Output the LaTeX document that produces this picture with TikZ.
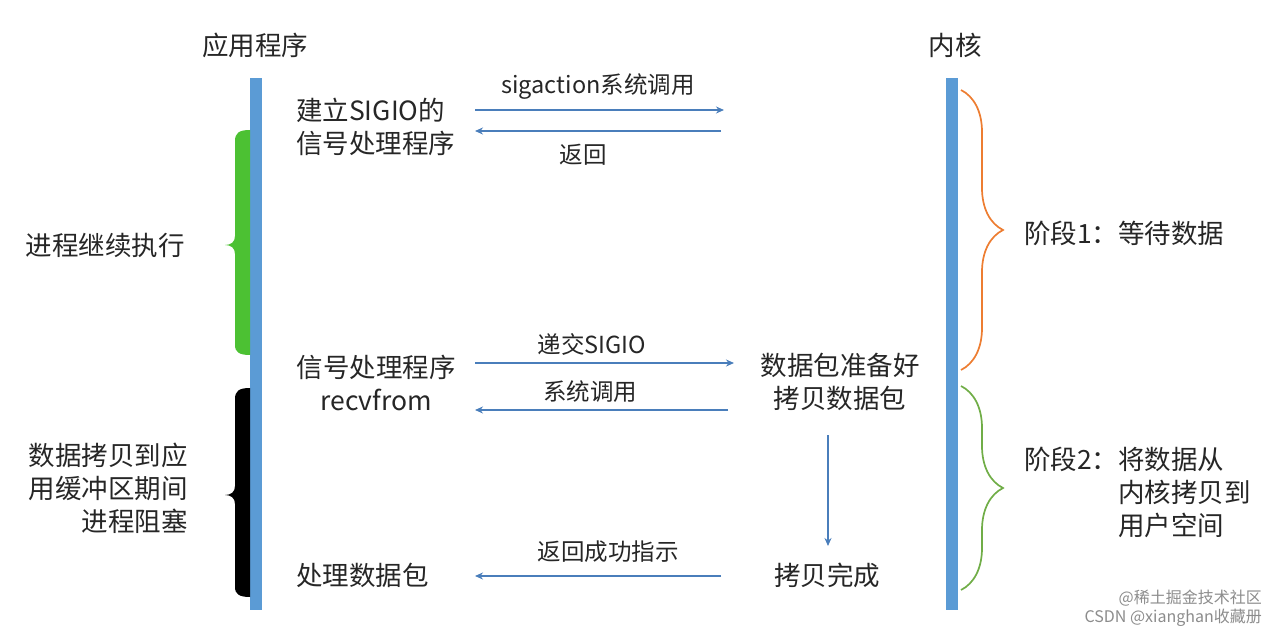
\documentclass[tikz,border=0pt]{standalone}
\usepackage{fontspec}
\setmainfont{Noto Sans CJK SC}
\usepackage{tikz}
\usetikzlibrary{arrows.meta,decorations.pathreplacing}
\definecolor{barblue}{HTML}{5B9BD5}
\definecolor{arrblue}{HTML}{4A7EBB}
\definecolor{txtgray}{HTML}{262626}
\definecolor{rungreen}{HTML}{4CC133}
\definecolor{phaseone}{HTML}{ED7D31}
\definecolor{phasetwo}{HTML}{70AD47}
\tikzset{
  txt/.style={text=txtgray,font=\fontsize{26.5}{33}\selectfont,inner sep=0pt},
  lbl/.style={text=txtgray,font=\fontsize{23.5}{28}\selectfont,inner sep=0pt},
  wm/.style={text=black!45,font=\fontsize{16}{18}\selectfont,inner sep=0pt},
  arr/.style={-{Stealth[length=8pt,width=7pt]},draw=arrblue,line width=1.3pt},
  bar/.style={fill=barblue,draw=none},
  brc/.style={decorate,decoration={brace,amplitude=42pt,aspect=#1},line width=1.7pt},
  brc/.default={0.5},
}

\begin{document}
\begin{tikzpicture}[x=1pt,y=-1pt]
 \useasboundingbox (0,0) rectangle (1280,636);
 % titles
 \node[txt] (app) at (255,45){应用程序};
 \node[txt] (kern) at (955,45){内核};
 % time lines
 \path[bar] (250,78) rectangle (262,610);
 \path[bar] (946,78) rectangle (958,610);
 % left braces (filled)
 \fill[rungreen] (250,130) .. controls (239,130) and (235,133) .. (235,141) -- (235,236)
   .. controls (235,242) and (231,245) .. (225,245) .. controls (231,245) and (235,248) .. (235,254)
   -- (235,345) .. controls (235,352) and (239,355) .. (250,355) -- cycle;
 \fill[black] (250,388) .. controls (239,388) and (235,391) .. (235,399) -- (235,486)
   .. controls (235,492) and (231,495) .. (225,495) .. controls (231,495) and (235,498) .. (235,504)
   -- (235,587) .. controls (235,594) and (239,597) .. (250,597) -- cycle;
 \node[txt] (run) at (105,245){进程继续执行};
 \node[txt,align=right,anchor=east] (block) at (188,488){数据拷贝到应\\用缓冲区期间\\进程阻塞};
 % right braces
 \coordinate (p1a) at (961,90);
 \coordinate (p1b) at (961,370);
 \coordinate (p2a) at (961,386);
 \coordinate (p2b) at (961,590);
 \draw[brc,draw=phaseone] (p1a) -- (p1b);
 \draw[brc=0.5,draw=phasetwo] (p2a) -- (p2b);
 \node[txt,anchor=west] (ph1) at (1024,233){阶段1：等待数据};
 \node[txt,anchor=west,align=left] (ph2) at (1024,492){阶段2：将数据从\\\hphantom{阶段2：}内核拷贝到\\\hphantom{阶段2：}用户空间};
 % step texts
 \node[txt,anchor=west,align=left] (setup) at (296,127){建立SIGIO的\\信号处理程序};
 \node[txt,align=center] (handler) at (376,383){信号处理程序\\recvfrom};
 \node[txt,align=center] (ready) at (840,382){数据包准备好\\拷贝数据包};
 \node[txt] (done) at (827,575){拷贝完成};
 \node[txt,anchor=west] (proc) at (296,575){处理数据包};
 % message ends
 \coordinate (a1s) at (475,110);  \coordinate (a1e) at (724,110);
 \coordinate (a2s) at (721,131);  \coordinate (a2e) at (475,131);
 \coordinate (a3s) at (475,363);  \coordinate (a3e) at (734,363);
 \coordinate (a4s) at (728,410);  \coordinate (a4e) at (475,410);
 \coordinate (a5s) at (721,576);  \coordinate (a5e) at (475,576);
 \coordinate (d1) at (828,435);   \coordinate (d2) at (828,546);
 \draw[arr] (a1s) -- (a1e);
 \draw[arr] (a2s) -- (a2e);
 \draw[arr] (a3s) -- (a3e);
 \draw[arr] (a4s) -- (a4e);
 \draw[arr] (a5s) -- (a5e);
 \draw[arr] (d1) -- (d2);
 \node[lbl] (l1) at (598,87){sigaction系统调用};
 \node[lbl] (l2) at (583,155){返回};
 \node[lbl] (l3) at (592,344){递交SIGIO};
 \node[lbl] (l4) at (590,392){系统调用};
 \node[lbl] (l5) at (608,552){返回成功指示};
 % watermark
 \node[wm,anchor=east] (wm1) at (1262,598){@稀土掘金技术社区};
 \node[wm,anchor=east] (wm2) at (1262,618){CSDN @xianghan收藏册};
\end{tikzpicture}
\end{document}
